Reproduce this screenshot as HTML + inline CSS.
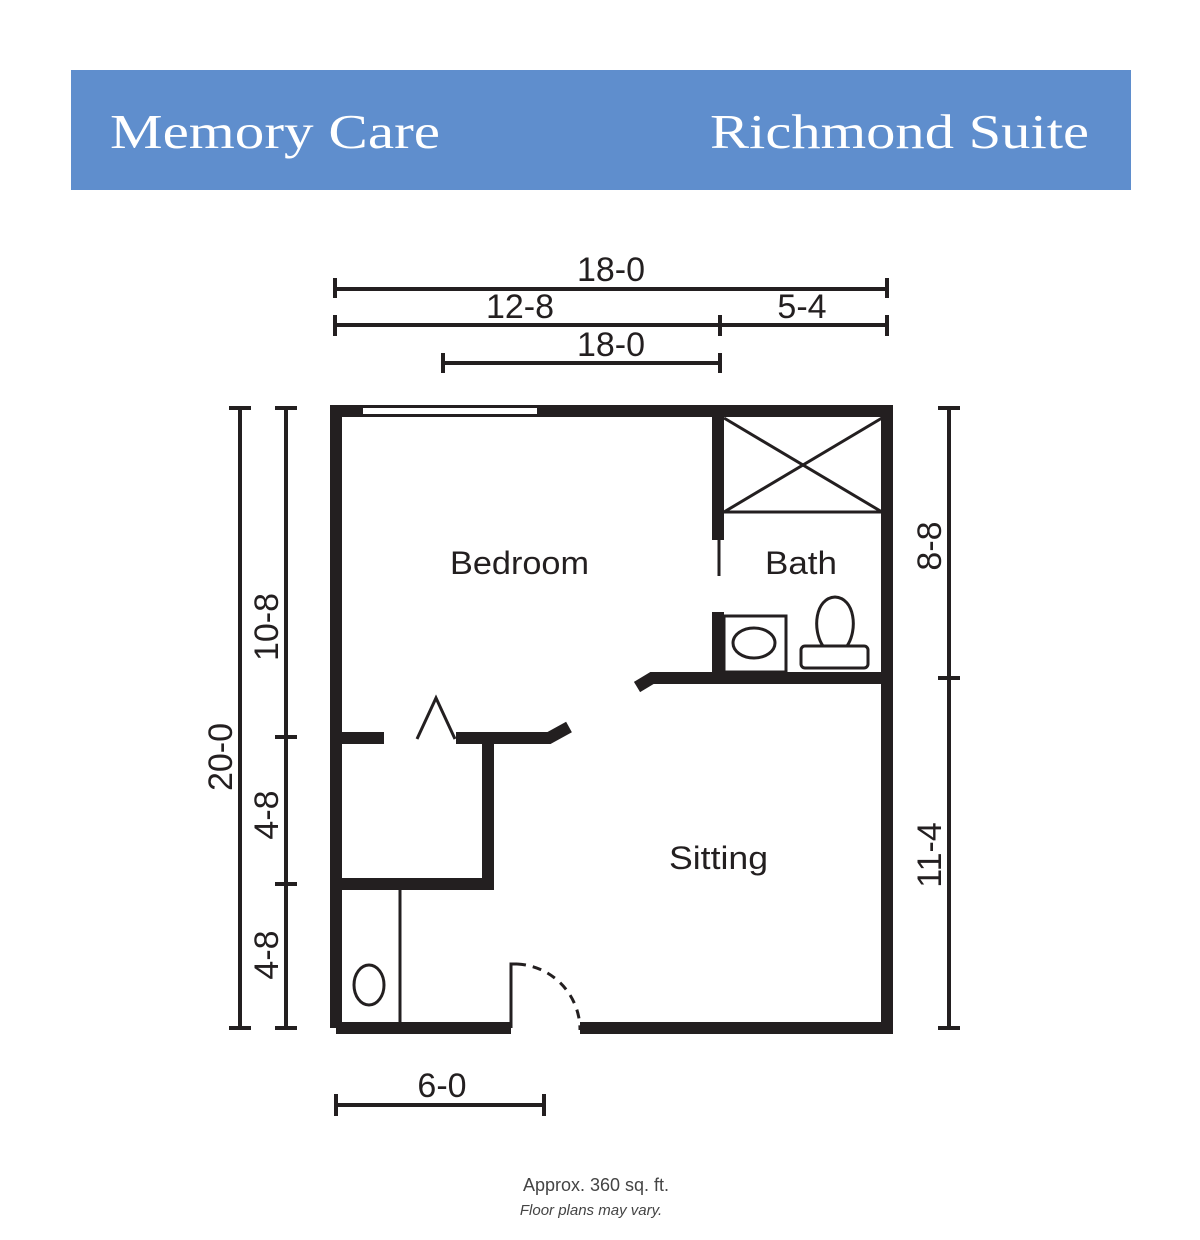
<!DOCTYPE html>
<html><head><meta charset="utf-8"><style>
body{margin:0;background:#fff;}
svg{display:block;}
</style></head><body>
<svg width="1200" height="1240" viewBox="0 0 1200 1240" xmlns="http://www.w3.org/2000/svg">
<rect x="71" y="70" width="1060" height="120" fill="#5f8ecd"/>
<text x="110" y="148" font-family="Liberation Serif, serif" font-size="49" fill="#fff" textLength="330" lengthAdjust="spacingAndGlyphs">Memory Care</text>
<text x="710" y="148" font-family="Liberation Serif, serif" font-size="49" fill="#fff" textLength="379" lengthAdjust="spacingAndGlyphs">Richmond Suite</text>

<g stroke="#231f20" fill="none" stroke-width="4">
<line x1="335" y1="289" x2="887" y2="289"/><line x1="335" y1="278" x2="335" y2="298"/><line x1="887" y1="278" x2="887" y2="298"/>
<line x1="335" y1="325" x2="887" y2="325"/><line x1="335" y1="315" x2="335" y2="336"/><line x1="720" y1="315" x2="720" y2="336"/><line x1="887" y1="315" x2="887" y2="336"/>
<line x1="443" y1="363" x2="720" y2="363"/><line x1="443" y1="353" x2="443" y2="373"/><line x1="720" y1="353" x2="720" y2="373"/>
<line x1="240" y1="408" x2="240" y2="1028"/><line x1="229" y1="408" x2="251" y2="408"/><line x1="229" y1="1028" x2="251" y2="1028"/>
<line x1="286" y1="408" x2="286" y2="1028"/><line x1="275" y1="408" x2="297" y2="408"/><line x1="275" y1="737" x2="297" y2="737"/><line x1="275" y1="884" x2="297" y2="884"/><line x1="275" y1="1028" x2="297" y2="1028"/>
<line x1="949" y1="408" x2="949" y2="1028"/><line x1="938" y1="408" x2="960" y2="408"/><line x1="938" y1="678" x2="960" y2="678"/><line x1="938" y1="1028" x2="960" y2="1028"/>
<line x1="336" y1="1105" x2="544" y2="1105"/><line x1="336" y1="1094" x2="336" y2="1116"/><line x1="544" y1="1094" x2="544" y2="1116"/>
</g>

<g font-family="Liberation Sans, sans-serif" font-size="34" fill="#231f20" text-anchor="middle">
<text x="611" y="281">18-0</text>
<text x="520" y="318">12-8</text>
<text x="802" y="318">5-4</text>
<text x="611" y="356">18-0</text>
<text x="442" y="1097">6-0</text>
<text transform="translate(232,757) rotate(-90)">20-0</text>
<text transform="translate(278,627) rotate(-90)">10-8</text>
<text transform="translate(278,815) rotate(-90)">4-8</text>
<text transform="translate(278,955) rotate(-90)">4-8</text>
<text transform="translate(941,546) rotate(-90)">8-8</text>
<text transform="translate(941,855) rotate(-90)">11-4</text>
</g>
<g font-family="Liberation Sans, sans-serif" font-size="32" fill="#231f20">
<text x="450" y="574" textLength="139" lengthAdjust="spacingAndGlyphs">Bedroom</text>
<text x="765" y="574" textLength="72" lengthAdjust="spacingAndGlyphs">Bath</text>
<text x="669" y="869" textLength="99" lengthAdjust="spacingAndGlyphs">Sitting</text>
</g>

<g stroke="#231f20" fill="none">
<path d="M336 1028 V411 H887 V1028 H580" stroke-width="12"/>
<line x1="336" y1="1028" x2="511" y2="1028" stroke-width="12"/>
<rect x="362" y="407" width="176" height="8" fill="#fff" stroke="#231f20" stroke-width="2"/>
<line x1="718" y1="417" x2="718" y2="540" stroke-width="12"/>
<line x1="719" y1="540" x2="719" y2="576" stroke-width="3"/>
<line x1="718" y1="612" x2="718" y2="678" stroke-width="12"/>
<line x1="724" y1="512" x2="882" y2="512" stroke-width="3"/>
<line x1="724" y1="418" x2="882" y2="512" stroke-width="3"/>
<line x1="882" y1="418" x2="724" y2="512" stroke-width="3"/>
<path d="M637 687 L652 678 H887" stroke-width="12"/>
<rect x="724" y="616" width="62" height="56" stroke-width="3"/>
<ellipse cx="754" cy="643" rx="21" ry="15" stroke-width="3"/>
<rect x="801" y="646" width="67" height="22" rx="4" stroke-width="3"/>
<path d="M823 646 C812 630 815 598 835 597 C855 598 858 630 847 646" stroke-width="3"/>
<line x1="336" y1="738" x2="384" y2="738" stroke-width="12"/>
<path d="M456 738 H549 L569 727" stroke-width="12"/>
<path d="M417 739 L436 698 L455 739" stroke-width="3"/>
<path d="M488 738 V884 H336" stroke-width="12"/>
<line x1="400" y1="890" x2="400" y2="1023" stroke-width="3"/>
<ellipse cx="369" cy="985" rx="15" ry="20" stroke-width="3"/>
<path d="M511 1028 V964 H517" stroke-width="3"/>
<path d="M517 964 A66 66 0 0 1 580 1030" stroke-width="3" stroke-dasharray="9 7"/>
</g>

<text x="596" y="1191" text-anchor="middle" font-family="Liberation Sans, sans-serif" font-size="18" fill="#444">Approx. 360 sq. ft.</text>
<text x="591" y="1215" text-anchor="middle" font-family="Liberation Sans, sans-serif" font-size="15" font-style="italic" fill="#444">Floor plans may vary.</text>
</svg>
</body></html>
